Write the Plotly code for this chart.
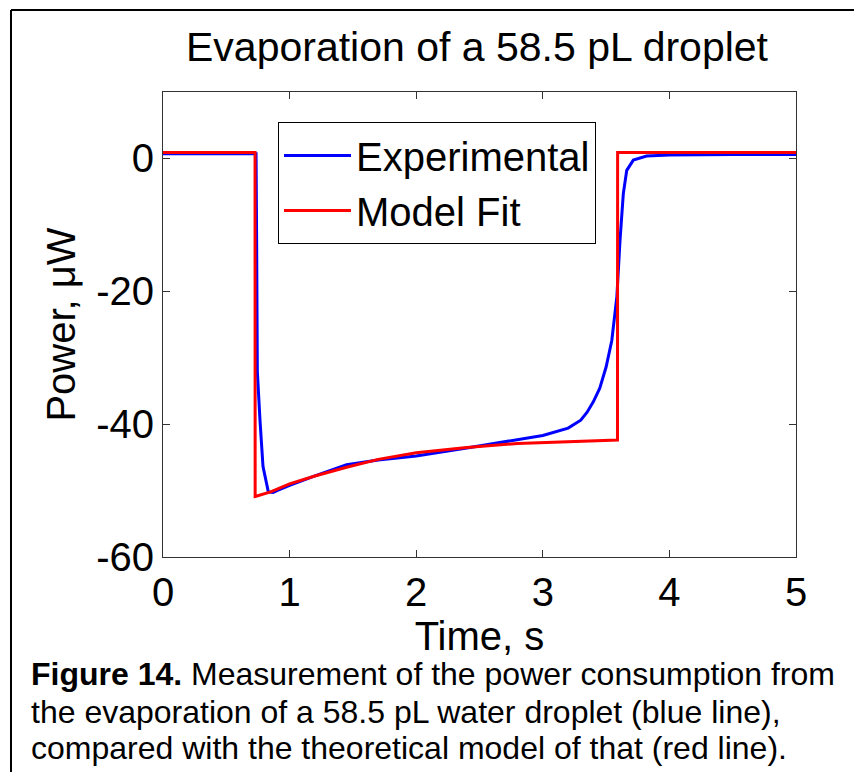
import plotly.graph_objects as go

# Experimental (blue) trace
exp_t = [0.0, 0.5, 0.735, 0.74, 0.745, 0.766, 0.79, 0.832, 0.87, 0.9, 1.0, 1.2, 1.45, 1.7, 2.0, 2.4,
         2.8, 3.0, 3.2, 3.3, 3.35, 3.4, 3.45, 3.5, 3.545, 3.585, 3.61, 3.636, 3.663, 3.715, 3.82, 4.0, 4.5, 5.0]
exp_p = [0.7, 0.7, 0.7, -13.5, -32.0, -39.4, -46.4, -50.2, -50.3, -50.0, -49.2, -47.8, -46.1, -45.4, -44.8, -43.6,
         -42.3, -41.7, -40.6, -39.4, -38.2, -36.6, -34.6, -31.4, -27.4, -20.8, -12.3, -5.3, -1.8, -0.25, 0.35, 0.5, 0.6, 0.6]

# Model fit (red) trace
fit_t = [0.0, 0.727, 0.728, 0.85, 1.0, 1.2, 1.45, 1.7, 2.0, 2.4, 2.8, 3.2, 3.59, 3.591, 5.0]
fit_p = [0.9, 0.9, -50.9, -50.2, -49.0, -47.8, -46.5, -45.3, -44.3, -43.5, -42.9, -42.6, -42.4, 0.9, 0.9]

x_ticks = [0, 1, 2, 3, 4, 5]
y_ticks = [0, -20, -40, -60]

title_text = "Evaporation of a 58.5 pL droplet"
caption_lines = ["<b>Figure 14.</b> Measurement of the power consumption from",
                 "the evaporation of a 58.5 pL water droplet (blue line),",
                 "compared with the theoretical model of that (red line)."]

FONT = "Liberation Sans, Arial, sans-serif"

# page body has an 8px margin; layout numbers below are in figure pixels
L, T, PW, PH = 155, 84, 633, 465
W, H = 862, 772

fig = go.Figure()
fig.add_trace(go.Scatter(x=exp_t, y=exp_p, mode="lines", name="Experimental",
                         line=dict(color="#0000ff", width=3)))
fig.add_trace(go.Scatter(x=fit_t, y=fit_p, mode="lines", name="Model Fit",
                         line=dict(color="#ff0000", width=3)))

axis_common = dict(showline=True, linecolor="#333333", linewidth=1, mirror="ticks",
                   ticks="inside", ticklen=7, tickcolor="#333333", showgrid=False,
                   zeroline=False, tickfont=dict(size=40, color="black", family=FONT))

fig.update_layout(
    width=W, height=H,
    margin=dict(l=L, r=W - L - PW, t=T, b=H - T - PH),
    paper_bgcolor="white", plot_bgcolor="white",
    font=dict(family=FONT, color="black"),
    title=dict(text=title_text, x=469 / W, xanchor="center", y=1 - 39 / H, yanchor="middle",
               font=dict(size=41, color="black", family=FONT)),
    xaxis=dict(range=[0, 5], tickvals=x_ticks, ticktext=[str(v) for v in x_ticks],
               title=dict(text="Time, s", font=dict(size=40, family=FONT), standoff=0),
               **axis_common),
    yaxis=dict(range=[-60, 10], tickvals=y_ticks, ticktext=[str(v) for v in y_ticks],
               title=dict(text="Power, μW", font=dict(size=40, family=FONT), standoff=8),
               **axis_common),
    legend=dict(x=(270 - L) / PW, y=1 - (114 - T) / PH, xanchor="left", yanchor="top",
                bordercolor="black", borderwidth=1, bgcolor="white",
                font=dict(size=40, color="black", family=FONT),
                tracegroupgap=0, itemwidth=67),
    showlegend=True,
)

for i, (line, yc) in enumerate(zip(caption_lines, [666, 704, 740])):
    fig.add_annotation(text=line, xref="paper", yref="paper",
                       x=(21 - L) / PW, y=(T + PH - yc) / PH, xanchor="left", yanchor="middle",
                       align="left", showarrow=False,
                       font=dict(size=32, color="black", family=FONT))

# outer frame lines (left and top)
fx = (3 - L) / PW
fy = (T + PH - 2) / PH
fig.add_shape(type="line", xref="paper", yref="paper",
              x0=fx, x1=fx, y0=fy, y1=(T + PH - 800) / PH,
              line=dict(color="black", width=2))
fig.add_shape(type="line", xref="paper", yref="paper",
              x0=fx, x1=(900 - L) / PW, y0=fy, y1=fy,
              line=dict(color="black", width=2))

fig.write_html("out.html")
